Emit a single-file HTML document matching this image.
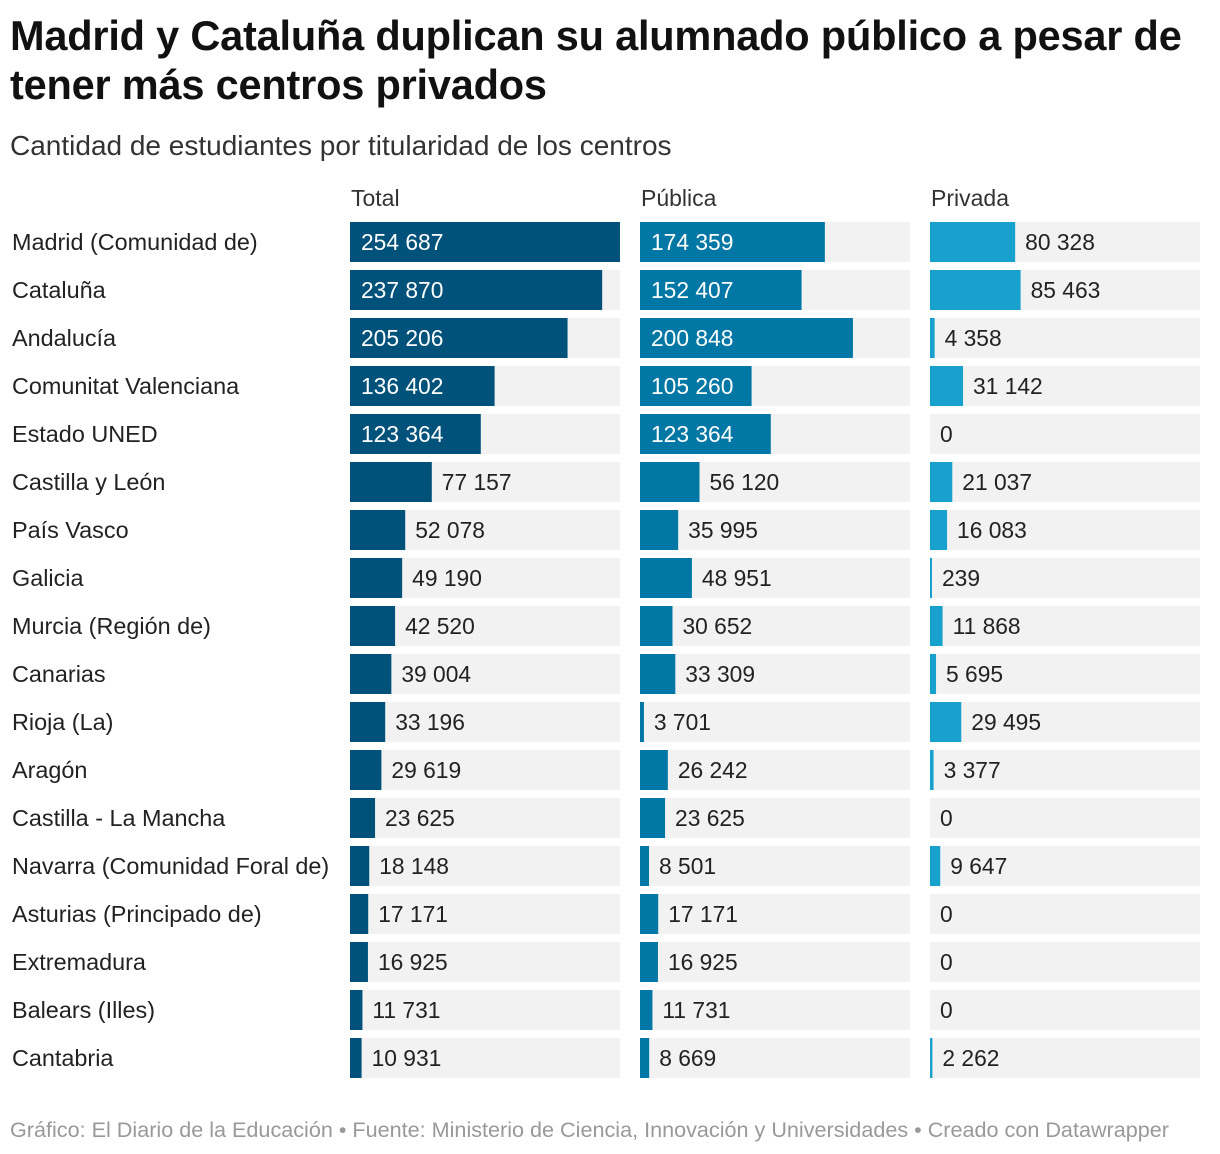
<!DOCTYPE html>
<html><head><meta charset="utf-8">
<style>
body{margin:0;background:#fff;font-family:"Liberation Sans",sans-serif;color:#222;width:1220px;height:1154px;position:relative;overflow:hidden}
#title{position:absolute;left:10px;top:11px;width:1200px;font-size:41.5px;font-weight:bold;line-height:49px;color:#111;letter-spacing:-0.2px}
#subtitle{position:absolute;left:10px;top:130px;font-size:28px;color:#333}
#footer{position:absolute;left:10px;top:1117px;font-size:21.6px;color:#999}
svg{position:absolute;left:0;top:0}
</style></head><body>
<div id="title">Madrid y Cataluña duplican su alumnado público a pesar de tener más centros privados</div>
<div id="subtitle">Cantidad de estudiantes por titularidad de los centros</div>
<svg id="chart" width="1220" height="1154"></svg>
<div id="footer">Gráfico: El Diario de la Educación • Fuente: Ministerio de Ciencia, Innovación y Universidades • Creado con Datawrapper</div>
<script>
const regions=["Madrid (Comunidad de)","Cataluña","Andalucía","Comunitat Valenciana","Estado UNED","Castilla y León","País Vasco","Galicia","Murcia (Región de)","Canarias","Rioja (La)","Aragón","Castilla - La Mancha","Navarra (Comunidad Foral de)","Asturias (Principado de)","Extremadura","Balears (Illes)","Cantabria"];
const totalValues=[254687,237870,205206,136402,123364,77157,52078,49190,42520,39004,33196,29619,23625,18148,17171,16925,11731,10931];
const publicaValues=[174359,152407,200848,105260,123364,56120,35995,48951,30652,33309,3701,26242,23625,8501,17171,16925,11731,8669];
const privadaValues=[80328,85463,4358,31142,0,21037,16083,239,11868,5695,29495,3377,0,9647,0,0,0,2262];
const columnNames=["Total","Pública","Privada"];

const svg=document.getElementById('chart');
const NS="http://www.w3.org/2000/svg";
const colX=[350,640,930], colW=270, rowTop=222, rowH=40, pitch=48;
const maxV=Math.max(...totalValues);
const xScale=v=>v/maxV*colW;
const yScale=i=>rowTop+i*pitch;
const colors=["#00527a","#0077a4","#18a1cd"];
const series=[totalValues,publicaValues,privadaValues];
const fmt=v=>String(v).replace(/\B(?=(\d{3})+(?!\d))/g," ");
function mk(tag,attrs){const e=document.createElementNS(NS,tag);for(const k in attrs)e.setAttribute(k,attrs[k]);svg.appendChild(e);return e;}

columnNames.forEach((n,c)=>{
 const t=mk('text',{x:colX[c]+1,y:206,'font-size':23,fill:'#333'});
 t.textContent=n;
 
 
});
regions.forEach((r,i)=>{
 const y=yScale(i);
 const t=mk('text',{x:12,y:y+28,'font-size':23.4,fill:'#222'});
 t.textContent=r;
 
 
 series.forEach((s,c)=>{
  const bg=mk('rect',{x:colX[c],y:y,width:colW,height:rowH,fill:'#f2f2f2'});
  
  
  const v=s[i];
  let w=xScale(v);
  if(v>0&&w<2)w=2;
  if(v>0){
   const b=mk('rect',{x:colX[c],y:y,width:w,height:rowH,fill:colors[c]});
   
   
  }
  const inside=v>100000;
  const lx=inside?colX[c]+11:colX[c]+w+10;
  const l=mk('text',{x:lx,y:y+28,'font-size':22.8,fill:inside?'#fff':'#222'});
  l.textContent=fmt(v);
  
  
 });
});
</script>
</body></html>
